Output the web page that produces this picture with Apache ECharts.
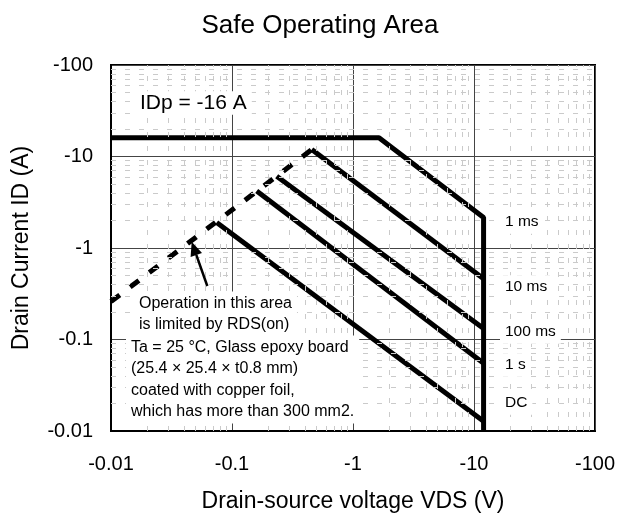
<!DOCTYPE html>
<html>
<head>
<meta charset="utf-8">
<title>Safe Operating Area</title>
<script src="https://cdn.jsdelivr.net/npm/echarts@6/dist/echarts.min.js"></script>
<style>
  html, body { margin: 0; padding: 0; background: #fff; }
  #main { width: 628px; height: 518px; }
</style>
</head>
<body>
<div id="main"></div>
<script>
// values are magnitudes, the axes print them with a minus sign
var decades = [0.01, 0.1, 1, 10, 100];
var xTickLabels = ['-0.01', '-0.1', '-1', '-10', '-100'];
var yTickLabels = ['-0.01', '-0.1', '-1', '-10', '-100'];

// 1 ms curve = drain current limit + 1 ms line + VDSS limit
var vds1ms = [0.01, 1.64, 12, 12];
var id1ms = [16, 16, 2.16, 0.01];
// RDS(on) limit (dashed)
var vdsRds = [0.01, 0.456];
var idRds = [0.26, 11.9];
var vds10ms = [0.456, 12];
var id10ms = [11.9, 0.46];
var vds100ms = [0.234, 12];
var id100ms = [6.1, 0.132];
var vds1s = [0.16, 12];
var id1s = [4.2, 0.055];
var vdsDc = [0.0747, 12];
var idDc = [1.9, 0.0128];

var curveNames = ['1 ms', '10 ms', '100 ms', '1 s', 'DC'];

var FONT = '"Liberation Sans", Arial, sans-serif';

function pairs(xs, ys) {
    var out = [];
    for (var i = 0; i < xs.length; i++) out.push([xs[i], ys[i]]);
    return out;
}

function tickText(labels) {
    return function (v) {
        var k = Math.round(Math.log10(v)) + 2;
        return labels[k] !== undefined ? labels[k] : '';
    };
}

// minor log-paper grid lines (2..9 in every decade)
var minorLines = [];
for (var d = 0; d < decades.length - 1; d++) {
    for (var m = 2; m <= 9; m++) {
        minorLines.push({ xAxis: decades[d] * m });
        minorLines.push({ yAxis: decades[d] * m });
    }
}

var thick = { color: '#000', width: 5 };

var myChart = echarts.init(document.getElementById('main'));

var option = {
    animation: false,
    backgroundColor: '#fff',
    textStyle: { fontFamily: FONT },
    title: {
        text: 'Safe Operating Area',
        left: 320,
        top: 13,
        padding: 0,
        textAlign: 'center',
        textStyle: { fontFamily: FONT, fontSize: 26, fontWeight: 'normal', color: '#000' }
    },
    grid: {
        left: 111, right: 33, top: 65, bottom: 85,
        show: true, borderColor: '#000', borderWidth: 2, backgroundColor: '#fff'
    },
    xAxis: {
        type: 'log', logBase: 10, min: 0.01, max: 100,
        name: 'Drain-source voltage VDS (V)',
        nameLocation: 'middle', nameGap: 59,
        nameTextStyle: { fontFamily: FONT, fontSize: 23, color: '#000' },
        axisLine: { show: true, lineStyle: { color: '#000', width: 2 } },
        axisTick: { show: false },
        axisLabel: { fontFamily: FONT, fontSize: 20, color: '#000', margin: 23, formatter: tickText(xTickLabels) },
        splitLine: { show: true, lineStyle: { color: '#444', width: 1 } }
    },
    yAxis: {
        type: 'log', logBase: 10, min: 0.01, max: 100,
        name: 'Drain Current ID (A)',
        nameLocation: 'middle', nameGap: 78,
        nameTextStyle: { fontFamily: FONT, fontSize: 23, color: '#000' },
        axisLine: { show: true, lineStyle: { color: '#000', width: 2 } },
        axisTick: { show: false },
        axisLabel: { fontFamily: FONT, fontSize: 20, color: '#000', margin: 18, formatter: tickText(yTickLabels) },
        splitLine: { show: true, lineStyle: { color: '#444', width: 1 } }
    },
    series: [
        {
            name: 'minor grid',
            type: 'line',
            data: [[0.01, 0.01]],
            showSymbol: false,
            lineStyle: { width: 0 },
            silent: true,
            z: 1,
            markLine: {
                silent: true,
                symbol: ['none', 'none'],
                label: { show: false },
                lineStyle: { color: '#cacaca', type: [5, 9], width: 1 },
                data: minorLines
            }
        },
        { name: 'RDS(on)', type: 'line', data: pairs(vdsRds, idRds), showSymbol: false, z: 3,
          lineStyle: { color: '#000', width: 5, type: [11, 13] } },
        { name: curveNames[0], type: 'line', data: pairs(vds1ms, id1ms), showSymbol: false, z: 3, lineStyle: thick },
        { name: curveNames[1], type: 'line', data: pairs(vds10ms, id10ms), showSymbol: false, z: 3, lineStyle: thick },
        { name: curveNames[2], type: 'line', data: pairs(vds100ms, id100ms), showSymbol: false, z: 3, lineStyle: thick },
        { name: curveNames[3], type: 'line', data: pairs(vds1s, id1s), showSymbol: false, z: 3, lineStyle: thick },
        { name: curveNames[4], type: 'line', data: pairs(vdsDc, idDc), showSymbol: false, z: 3, lineStyle: thick }
    ]
};
myChart.setOption(option);

// annotations: curve labels, notes and arrow
function note(text, x, y, size, va) {
    return {
        type: 'text', x: x, y: y, z: 50,
        style: {
            text: text, fill: '#000', font: size + 'px ' + FONT,
            verticalAlign: va || 'middle', align: 'left',
            backgroundColor: '#fff', padding: [1, 5], lineHeight: 21.5
        }
    };
}

var labelY = [222, 287, 332, 365, 403];
var graphics = [];
for (var i = 0; i < curveNames.length; i++) {
    graphics.push(note(curveNames[i], 500, labelY[i], 15.5));
}
graphics.push(note('IDp = -16 A', 135, 103, 21));
graphics.push(note('Operation in this area\nis limited by RDS(on)', 134, 291.5, 16, 'top'));
graphics.push(note('Ta = 25 °C, Glass epoxy board\n(25.4 × 25.4 × t0.8 mm)\ncoated with copper foil,\nwhich has more than 300 mm2.', 126, 335.5, 16, 'top'));
graphics.push({
    type: 'line', z: 60,
    shape: { x1: 207.3, y1: 286, x2: 196.3, y2: 254.9 },
    style: { stroke: '#000', lineWidth: 2.5 }
});
graphics.push({
    type: 'polygon', z: 60,
    shape: { points: [[191.7, 241.7], [202.0, 252.9], [190.6, 256.9]] },
    style: { fill: '#000' }
});
myChart.setOption({ graphic: graphics });
</script>
</body>
</html>
